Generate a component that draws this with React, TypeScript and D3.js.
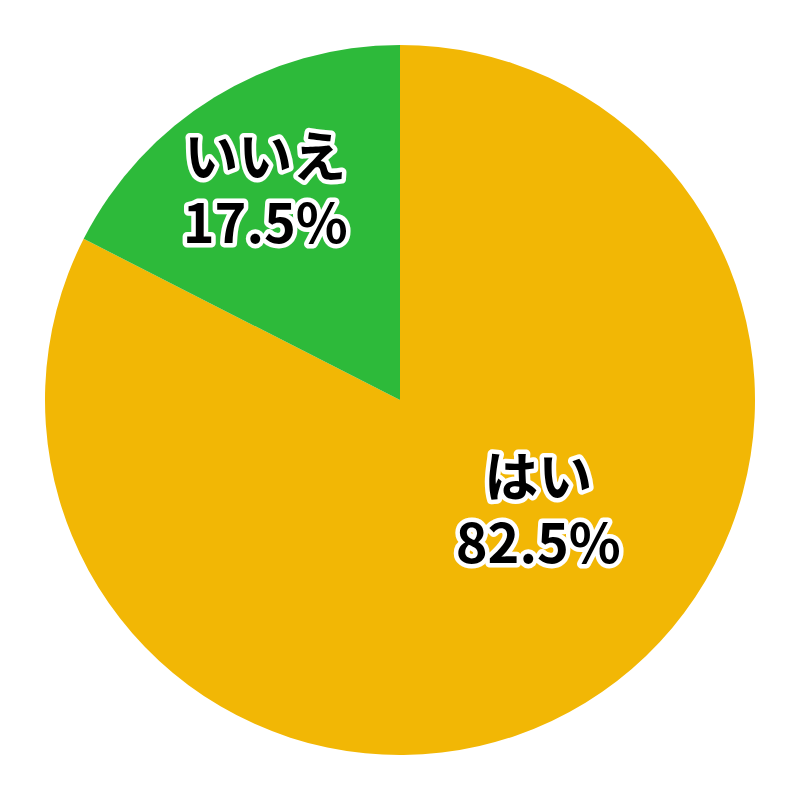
import React, { useEffect, useRef } from 'react';
import * as d3 from 'd3';

const labels = ['はい', 'いいえ'];
const values = [82.5, 17.5];
const colors = ['#F2B705', '#2DBA3A'];

const App: React.FC = () => {
  const svgRef = useRef<SVGSVGElement>(null);

  useEffect(() => {
    if (!svgRef.current) return;
    const svg = d3.select(svgRef.current);
    svg.selectAll('*').remove();

    const width = 800;
    const height = 800;
    const radius = 355;

    const g = svg
      .append('g')
      .attr('transform', `translate(${width / 2},${height / 2})`);

    const pie = d3.pie<number>().sort(null).value(d => d);
    const arcs = pie(values);

    const arc = d3.arc<d3.PieArcDatum<number>>()
      .innerRadius(0)
      .outerRadius(radius);

    g.selectAll('path.slice')
      .data(arcs)
      .enter()
      .append('path')
      .attr('class', 'slice')
      .attr('d', arc)
      .style('fill', (_, i) => colors[i]);

    // label anchors: centroid at a per-slice radius, nudged a little
    const labelRadius = [190, 233];
    const nudge: [number, number][] = [[39, -32], [-13, 9]];
    const lineGap = 66;

    arcs.forEach((d, i) => {
      const la = d3.arc<d3.PieArcDatum<number>>()
        .innerRadius(labelRadius[i])
        .outerRadius(labelRadius[i]);
      const [x0, y0] = la.centroid(d);
      const cx = x0 + nudge[i][0];
      const cy = y0 + nudge[i][1];

      const t = g.append('text')
        .attr('text-anchor', 'middle')
        .style('font-family', '"Noto Sans CJK JP", "Noto Sans", sans-serif')
        .style('font-weight', 'bold')
        .style('font-size', '54px')
        .style('fill', '#000')
        .style('stroke', '#fff')
        .style('stroke-width', 9)
        .style('stroke-linejoin', 'round')
        .style('paint-order', 'stroke');
      t.append('tspan')
        .attr('x', cx)
        .attr('y', cy - lineGap / 2)
        .text(labels[i]);
      t.append('tspan')
        .attr('x', cx)
        .attr('y', cy + lineGap / 2)
        .text(`${values[i]}%`);
    });
  }, []);

  return (
    <svg
      ref={svgRef}
      width={800}
      height={800}
      style={{ position: 'absolute', left: 0, top: 0, background: '#fff' }}
    />
  );
};

export default App;
